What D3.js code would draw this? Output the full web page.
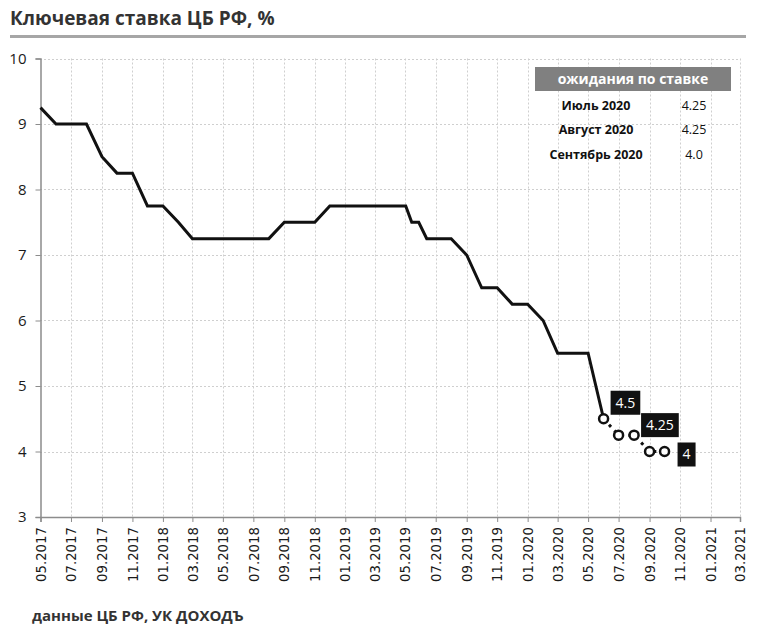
<!DOCTYPE html>
<html>
<head>
<meta charset="utf-8">
<script src="https://cdn.jsdelivr.net/npm/d3@7"></script>
<style>
  body { margin: 0; background: #fff; }
</style>
</head>
<body>
<div id="chart"></div>
<script>
const width = 760;
const height = 630;

// key rate, actual
const rateDates = ["2017-05-01", "2017-06-01", "2017-08-01", "2017-09-01", "2017-10-01", "2017-11-01",
    "2017-12-01", "2018-01-01", "2018-02-01", "2018-03-01", "2018-08-01", "2018-09-01", "2018-11-01",
    "2018-12-01", "2019-05-02", "2019-05-14", "2019-05-28", "2019-06-13", "2019-08-01", "2019-09-01",
    "2019-10-01", "2019-11-01", "2019-12-01", "2020-01-01", "2020-02-01", "2020-03-01", "2020-05-01",
    "2020-06-01"];
const rateValues = [9.25, 9.0, 9.0, 8.5, 8.25, 8.25,
    7.75, 7.75, 7.5, 7.25, 7.25, 7.5, 7.5,
    7.75, 7.75, 7.5, 7.5, 7.25, 7.25, 7.0,
    6.5, 6.5, 6.25, 6.25, 6.0, 5.5, 5.5,
    4.5];

// expected rate
const forecastDates = ["2020-06-01", "2020-07-01", "2020-08-01", "2020-09-01", "2020-10-01"];
const forecastValues = [4.5, 4.25, 4.25, 4.0, 4.0];
const forecastLabels = ["4.5", "", "4.25", "", "4"];

const xTickDates = ["2017-05-01", "2017-07-01", "2017-09-01", "2017-11-01", "2018-01-01", "2018-03-01",
    "2018-05-01", "2018-07-01", "2018-09-01", "2018-11-01", "2019-01-01", "2019-03-01", "2019-05-01",
    "2019-07-01", "2019-09-01", "2019-11-01", "2020-01-01", "2020-03-01", "2020-05-01", "2020-07-01",
    "2020-09-01", "2020-11-01", "2021-01-01", "2021-03-01"];
const yTicks = [3, 4, 5, 6, 7, 8, 9, 10];

const tableMonths = ["Июль 2020", "Август 2020", "Сентябрь 2020"];
const tableValues = ["4.25", "4.25", "4.0"];

const parse = d3.timeParse("%Y-%m-%d");
const fmt = d3.timeFormat("%m.%Y");
const sans = "'Open Sans', 'Noto Sans', sans-serif";

const svg = d3.select("#chart")
    .append("svg")
    .attr("width", width)
    .attr("height", height)
    .style("font-family", sans);

const x = d3.scaleTime()
    .domain([parse("2017-05-01"), parse("2021-03-01")])
    .range([40.5, 740]);
const y = d3.scaleLinear()
    .domain([3, 10])
    .range([517, 58.5]);

// title
svg.append("text")
    .attr("x", 10)
    .attr("y", 25)
    .attr("font-size", 19)
    .attr("font-weight", "bold")
    .attr("fill", "#333")
    .text("Ключевая ставка ЦБ РФ, %");
svg.append("line")
    .attr("x1", 10).attr("x2", 746)
    .attr("y1", 36.5).attr("y2", 36.5)
    .attr("stroke", "#a6a6a6")
    .attr("stroke-width", 3);

// grid
svg.append("g")
    .selectAll("line")
    .data(yTicks.slice(1))
    .enter()
    .append("line")
    .attr("x1", 40).attr("x2", 740)
    .attr("y1", d => Math.round(y(d)) + 0.5)
    .attr("y2", d => Math.round(y(d)) + 0.5)
    .attr("stroke", "#cfcfcf")
    .attr("stroke-dasharray", "2,2");
svg.append("g")
    .selectAll("line")
    .data(xTickDates.slice(1))
    .enter()
    .append("line")
    .attr("x1", d => Math.round(x(parse(d))) + 0.5)
    .attr("x2", d => Math.round(x(parse(d))) + 0.5)
    .attr("y1", y(10)).attr("y2", y(3))
    .attr("stroke", "#cfcfcf")
    .attr("stroke-dasharray", "2,2");

// y axis
const yAxis = svg.append("g")
    .attr("transform", "translate(40.5,0)")
    .call(d3.axisLeft(y).tickValues(yTicks).tickSize(5).tickFormat(d3.format("d")));
yAxis.select(".domain").attr("stroke", "#8c8c8c").attr("stroke-width", 1.5);
yAxis.selectAll(".tick line").attr("stroke", "#8c8c8c");
yAxis.selectAll(".tick text")
    .attr("x", -14)
    .attr("fill", "#1a1a1a")
    .style("font-size", "15px")
    .style("font-family", sans);

// x axis
const xAxis = svg.append("g")
    .attr("transform", "translate(0,517)")
    .call(d3.axisBottom(x).tickValues(xTickDates.map(parse)).tickSize(5).tickFormat(fmt));
xAxis.select(".domain").attr("stroke", "#8c8c8c").attr("stroke-width", 1.5);
xAxis.selectAll(".tick line").attr("stroke", "#8c8c8c");
xAxis.selectAll(".tick text")
    .attr("transform", "rotate(-90)")
    .attr("x", -10)
    .attr("y", 0)
    .attr("dy", "0.35em")
    .attr("text-anchor", "end")
    .attr("fill", "#1a1a1a")
    .style("font-size", "13.3px")
    .style("font-family", "'DejaVu Sans', sans-serif");

// actual rate line
const rateData = rateDates.map((d, i) => ({ date: parse(d), value: rateValues[i] }));
const line = d3.line()
    .x(d => x(d.date))
    .y(d => y(d.value));
svg.append("path")
    .datum(rateData)
    .attr("d", line)
    .attr("fill", "none")
    .attr("stroke", "#111")
    .attr("stroke-width", 3);

// expectations
const fcData = forecastDates.map((d, i) => ({ date: parse(d), value: forecastValues[i], label: forecastLabels[i] }));
svg.append("path")
    .datum(fcData)
    .attr("d", line)
    .attr("fill", "none")
    .attr("stroke", "#111")
    .attr("stroke-width", 3)
    .attr("stroke-dasharray", "3,5");
svg.append("g")
    .selectAll("circle")
    .data(fcData)
    .enter()
    .append("circle")
    .attr("cx", d => x(d.date))
    .attr("cy", d => y(d.value))
    .attr("r", 4.5)
    .attr("fill", "#fff")
    .attr("stroke", "#111")
    .attr("stroke-width", 2.5);

// data labels (offset from point: left edge, vertical centre)
const labelOffsets = [[7, -16], [0, 0], [7, -10], [0, 0], [13, 3]];
const labels = svg.append("g")
    .selectAll("g")
    .data(fcData.filter(d => d.label !== ""))
    .enter()
    .append("g")
    .attr("transform", d => {
        const o = labelOffsets[fcData.indexOf(d)];
        return `translate(${x(d.date) + o[0]},${y(d.value) + o[1]})`;
    });
labels.append("text")
    .attr("x", 5)
    .attr("dy", "0.35em")
    .attr("font-size", 14)
    .attr("fill", "#fff")
    .text(d => d.label)
    .each(function () {
        const w = this.getComputedTextLength();
        d3.select(this.parentNode).insert("rect", "text")
            .attr("x", 0)
            .attr("y", -12)
            .attr("width", w + 10)
            .attr("height", 24)
            .attr("fill", "#111");
    });

// expectations table
svg.append("rect")
    .attr("x", 535).attr("y", 67)
    .attr("width", 196).attr("height", 24)
    .attr("fill", "#808080");
svg.append("text")
    .attr("x", 633).attr("y", 84)
    .attr("text-anchor", "middle")
    .attr("font-size", 14)
    .attr("font-weight", "bold")
    .attr("fill", "#fff")
    .text("ожидания по ставке");
const rows = svg.append("g")
    .selectAll("g")
    .data(tableMonths)
    .enter()
    .append("g")
    .attr("transform", (d, i) => `translate(0,${110 + i * 24.3})`);
rows.append("text")
    .attr("x", 596)
    .attr("text-anchor", "middle")
    .attr("font-size", 12.5)
    .attr("font-weight", "bold")
    .attr("fill", "#111")
    .text(d => d);
rows.append("text")
    .attr("x", 694)
    .attr("text-anchor", "middle")
    .attr("font-size", 12.5)
    .attr("fill", "#111")
    .text((d, i) => tableValues[i]);

// source
svg.append("text")
    .attr("x", 32)
    .attr("y", 621)
    .attr("font-size", 15)
    .attr("font-weight", "bold")
    .attr("fill", "#333")
    .text("данные ЦБ РФ, УК ДОХОДЪ");
</script>
</body>
</html>
